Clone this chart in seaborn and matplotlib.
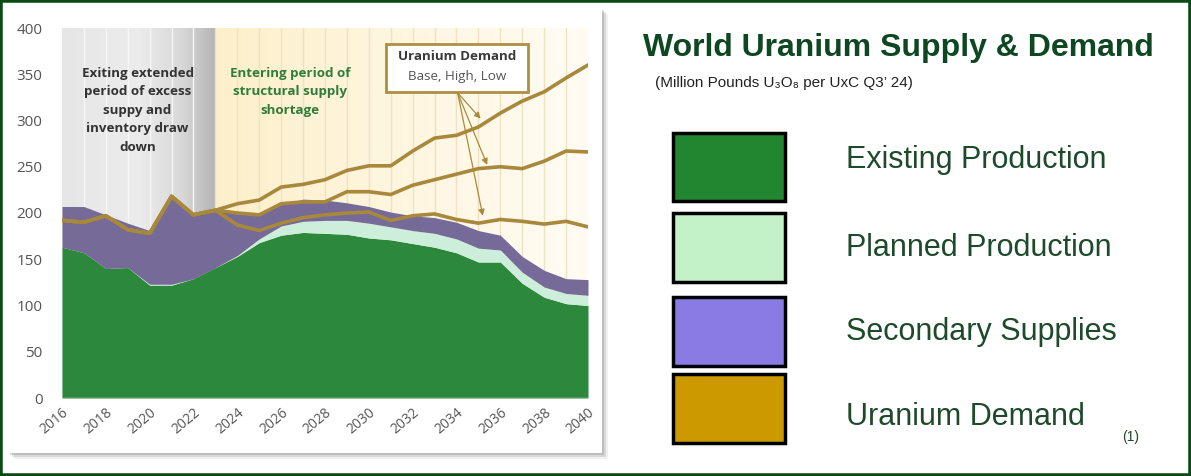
import numpy as np
import pandas as pd
import matplotlib
matplotlib.use("Agg")
import matplotlib.pyplot as plt
import seaborn as sns
from matplotlib.patches import Rectangle
from matplotlib.colors import LinearSegmentedColormap

# ---------------- data ----------------
years = list(range(2016, 2041))
existing = [163, 157, 140, 141, 122, 122, 129, 141, 153, 168, 176, 179, 178,
            177, 173, 171, 167, 163, 157, 147, 147, 124, 109, 102, 100]
planned = [0, 0, 0, 0, 1, 1, 0, 0, 1, 4, 10, 12, 14,
           15, 16, 14, 14, 15, 15, 15, 13, 12, 11, 11, 11]
secondary = [44, 50, 58, 48, 58, 95, 69, 62, 45, 26, 23, 24, 22,
             19, 18, 16, 16, 17, 18, 19, 16, 17, 18, 16, 17]
demand_high = [192, 190, 197, 182, 178, 218, 198, 203, 210, 214, 228, 231, 236,
               246, 251, 251, 267, 281, 284, 293, 308, 321, 331, 346, 360]
demand_base = [192, 190, 197, 182, 178, 218, 198, 203, 200, 198, 210, 212, 212,
               223, 223, 220, 230, 236, 242, 248, 250, 248, 256, 267, 266]
demand_low = [192, 190, 197, 182, 178, 218, 198, 203, 187, 181, 189, 195, 198,
              200, 201, 192, 197, 199, 193, 189, 193, 191, 188, 191, 185]
scenarios = ["High", "Base", "Low"]
y_ticks = [0, 50, 100, 150, 200, 250, 300, 350, 400]
x_ticks = list(range(2016, 2041, 2))
legend_labels = ["Existing Production", "Planned Production",
                 "Secondary Supplies", "Uranium Demand"]
legend_colors = ["#22852f", "#c3f1c8", "#8a7be4", "#cc9a00"]
title = "World Uranium Supply & Demand"
subtitle = "(Million Pounds U\u2083O\u2088 per UxC Q3\u2019 24)"
note_left = "Exiting extended\nperiod of excess\nsuppy and\ninventory draw\ndown"
note_right = "Entering period of\nstructural supply\nshortage"
box_title = "Uranium Demand"
box_sub = "Base, High, Low"

# ---------------- style ----------------
sns.set_style("white")
plt.rcParams["font.family"] = ["Open Sans", "DejaVu Sans"]

W, H = 1191, 476
fig = plt.figure(figsize=(W / 100, H / 100), dpi=100)
fig.patch.set_facecolor("white")


def fr(x0, y0, x1, y1):
    """pixel box (top-left origin) -> figure fraction rect"""
    return (x0 / W, 1 - y1 / H), (x1 - x0) / W, (y1 - y0) / H


# card shadow + card
for off, a in [(6, 0.10), (4, 0.18), (2, 0.25)]:
    xy, w, h = fr(8 + off, 8 + off, 602 + off, 453 + off)
    fig.patches.append(Rectangle(xy, w, h, transform=fig.transFigure,
                                 facecolor="#6f6f6f", alpha=a, edgecolor="none", zorder=-3))
xy, w, h = fr(8, 8, 602, 453)
fig.patches.append(Rectangle(xy, w, h, transform=fig.transFigure,
                             facecolor="white", edgecolor="none", zorder=-2))
# outer frame
fig.patches.append(Rectangle((0, 0), 1, 1, transform=fig.transFigure, fill=False,
                             edgecolor="#0b4a14", linewidth=4, zorder=20))

# ---------------- chart ----------------
ax = fig.add_axes([62 / W, (H - 398) / H, 526 / W, 370 / H])
ax.set_facecolor("none")

# background bands (gradients)
gray_cmap = LinearSegmentedColormap.from_list(
    "g", [(0, "#e6e6e6"), (0.5, "#ececec"), (0.78, "#d8d8d8"), (1, "#b4b4b4")])
ax.imshow(np.linspace(0, 1, 256)[None, :], cmap=gray_cmap, aspect="auto",
          extent=[2016, 2023, 0, 400], zorder=0, interpolation="bilinear")
cream_cmap = LinearSegmentedColormap.from_list(
    "c", [(0, "#fdefca"), (0.5, "#fff6e0"), (1, "#fffcf4")])
ax.imshow(np.linspace(0, 1, 256)[None, :], cmap=cream_cmap, aspect="auto",
          extent=[2023, 2040, 0, 400], zorder=0, interpolation="bilinear")
for yr in years[1:-1]:
    ax.axvline(yr, color="#f6f6f6" if yr < 2023 else "#eee2c4", lw=1.0, zorder=0.5)

ax.stackplot(years, existing, planned, secondary,
             colors=["#2c893c", "#cdeedb", "#756a98"], zorder=1, lw=0)
ax.axhline(0, color="#d9d9d9", lw=1, zorder=1.5)

df = pd.DataFrame({
    "year": years * 3,
    "value": demand_high + demand_base + demand_low,
    "scenario": ["High"] * 25 + ["Base"] * 25 + ["Low"] * 25,
})
line_col = "#a8883a"
sns.lineplot(data=df, x="year", y="value", hue="scenario", hue_order=scenarios,
             palette={s: line_col for s in scenarios}, linewidth=2.6,
             legend=False, ax=ax, zorder=3)

ax.set_xlim(2016, 2040)
ax.set_ylim(0, 400)
ax.set_yticks(y_ticks)
ax.set_xticks(x_ticks)
ax.set_xticklabels([str(x) for x in x_ticks], rotation=40, ha="right",
                   va="top", rotation_mode="anchor")
ax.tick_params(axis="y", labelsize=11, labelcolor="#555555", length=0, pad=14)
ax.tick_params(axis="x", labelsize=10, labelcolor="#555555", length=0, pad=5)
ax.set_xlabel("")
ax.set_ylabel("")
for s in ax.spines.values():
    s.set_visible(False)
ax.grid(False)

# annotations
ax.text(2019.45, 358, note_left, ha="center", va="top", fontsize=9.6,
        fontweight="bold", color="#333333", linespacing=1.55, zorder=4)
ax.text(2026.4, 358, note_right, ha="center", va="top", fontsize=9.6,
        fontweight="bold", color="#2f7d3a", linespacing=1.55, zorder=4)

ax.add_patch(Rectangle((2030.8, 331), 6.45, 52, facecolor="white",
                       edgecolor="#b08e42", lw=2, zorder=5))
ax.text(2034.05, 369, box_title, ha="center", va="center", fontsize=9.6,
        fontweight="bold", color="#3a3a3a", zorder=6)
ax.text(2034.05, 348, box_sub, ha="center", va="center", fontsize=9.6,
        color="#555555", zorder=6)
start = (2034.05, 330)
for end in [(2035.1, 302), (2035.4, 252), (2035.2, 197)]:
    ax.annotate("", xy=end, xytext=start, zorder=6,
                arrowprops=dict(arrowstyle="-|>", color="#a88a3a", lw=0.9,
                                mutation_scale=9, shrinkA=0, shrinkB=0))

# ---------------- right side ----------------
rfont = ["Liberation Sans", "DejaVu Sans"]
fig.text(643 / W, 1 - 48 / H, title, ha="left", va="center", fontsize=23,
         fontweight="bold", color="#0e4721", family=rfont)
fig.text(655 / W, 1 - 83 / H, subtitle, ha="left", va="center", fontsize=11,
         color="#222222", family=rfont)

boxes = [(133, 201), (213, 282), (297, 366), (374, 443)]
text_y = [160, 248, 332, 417]
for (y0, y1), lab, col, ty in zip(boxes, legend_labels, legend_colors, text_y):
    xy, w, h = fr(673, y0, 785, y1)
    fig.patches.append(Rectangle(xy, w, h, transform=fig.transFigure,
                                 facecolor=col, edgecolor="black", lw=2.5, zorder=5))
    fig.text(846 / W, 1 - ty / H, lab, ha="left", va="center", fontsize=22,
             color="#1d4a2a", family=rfont)
fig.text(1122 / W, 1 - 437 / H, "(1)", ha="left", va="center", fontsize=10,
         color="#1d4a2a", family=rfont)

fig.savefig("out.png", dpi=100, facecolor="white")
